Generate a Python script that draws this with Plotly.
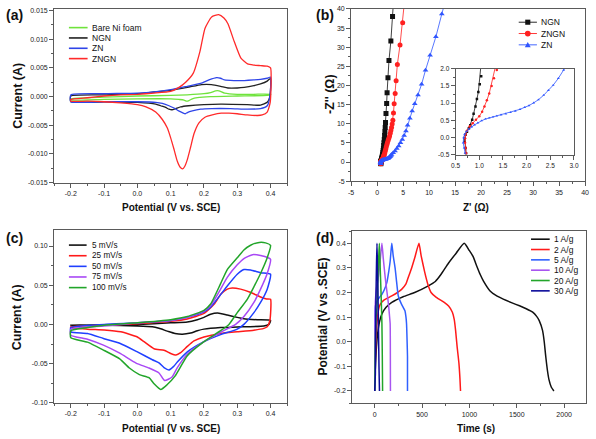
import plotly.graph_objects as go

W, H = 596, 439
FONT = "Liberation Sans, Arial, sans-serif"

# ---------------- Panel (a): CV of electrodes (V vs SCE, A) ----------------
a_names = ["Bare Ni foam", "NGN", "ZN", "ZNGN"]
a_colors = ["#6FE33C", "#222222", "#2F45E8", "#FF2A2A"]

a_bare_E = [-0.2, -0.1, 0.0, 0.1, 0.15, 0.2, 0.22, 0.235, 0.245, 0.262, 0.3, 0.35, 0.40,
            0.40, 0.39, 0.3, 0.22, 0.18, 0.165, 0.155, 0.148, 0.14, 0.125, 0.1, 0.0, -0.1, -0.2, -0.2]
a_bare_I = [-0.0004, -0.0001, 0.0001, 0.0002, 0.0003, 0.0005, 0.0007, 0.0010, 0.0010, 0.0006, 0.0004, 0.0004, 0.0004,
            0.0003, 0.0002, 0.0001, 0.0000, -0.0002, -0.0004, -0.0007, -0.0008, -0.0006, -0.0005, -0.0004, -0.0004, -0.0005, -0.0006, -0.0004]

a_ngn_E = [-0.2, -0.1, 0.0, 0.05, 0.1, 0.15, 0.193, 0.223, 0.25, 0.272, 0.30, 0.321, 0.35, 0.37, 0.39, 0.40,
           0.398, 0.39, 0.37, 0.33, 0.25, 0.2, 0.154, 0.13, 0.115, 0.104, 0.095, 0.085, 0.07, 0.055, 0.0, -0.1, -0.2, -0.2]
a_ngn_I = [0.0001, 0.0003, 0.0005, 0.0008, 0.0011, 0.0016, 0.0021, 0.0021, 0.0018, 0.0015, 0.0015, 0.0016, 0.0019, 0.0022, 0.0027, 0.0032,
           0.0000, -0.0010, -0.0015, -0.0014, -0.0013, -0.0014, -0.0016, -0.0018, -0.0021, -0.0023, -0.0022, -0.0019, -0.0016, -0.0013, -0.0010, -0.0009, -0.0009, 0.0001]

a_zn_E = [-0.2, -0.1, 0.0, 0.05, 0.1, 0.15, 0.19, 0.215, 0.238, 0.25, 0.262, 0.29, 0.321, 0.35, 0.37, 0.39, 0.40,
          0.398, 0.39, 0.37, 0.33, 0.28, 0.223, 0.19, 0.165, 0.15, 0.144, 0.135, 0.124, 0.11, 0.095, 0.075, 0.055, 0.0, -0.1, -0.2, -0.2]
a_zn_I = [0.0003, 0.0005, 0.0006, 0.0008, 0.0012, 0.0018, 0.0023, 0.0029, 0.0033, 0.0032, 0.0029, 0.0028, 0.0028, 0.0029, 0.0030, 0.0032, 0.0034,
          0.0000, -0.0016, -0.0021, -0.0022, -0.0021, -0.0021, -0.0022, -0.0025, -0.0028, -0.0030, -0.0028, -0.0025, -0.0020, -0.0016, -0.0012, -0.0010, -0.0009, -0.0009, -0.0009, 0.0003]

a_zngn_E = [-0.2, -0.15, -0.1, -0.05, 0.0, 0.05, 0.1, 0.125, 0.145, 0.168, 0.188, 0.203, 0.223, 0.244, 0.26, 0.272, 0.291, 0.311, 0.331, 0.35, 0.37, 0.39, 0.40,
            0.399, 0.39, 0.375, 0.361, 0.33, 0.30, 0.275, 0.252, 0.225, 0.203, 0.185, 0.17, 0.16, 0.15, 0.142, 0.136, 0.128, 0.12, 0.11, 0.10, 0.09, 0.075, 0.055, 0.026, 0.0, -0.05, -0.1, -0.15, -0.2, -0.2]
a_zngn_I = [-0.0005, -0.0002, 0.0001, 0.0003, 0.0004, 0.0006, 0.0009, 0.0016, 0.0025, 0.0041, 0.0079, 0.0119, 0.0139, 0.0143, 0.0137, 0.0127, 0.0096, 0.0067, 0.0057, 0.0055, 0.0054, 0.0053, 0.0050,
            -0.0010, -0.0027, -0.0032, -0.0033, -0.0032, -0.0030, -0.0029, -0.0029, -0.0032, -0.0036, -0.0046, -0.0065, -0.0088, -0.0110, -0.0122, -0.0126, -0.0123, -0.0113, -0.0092, -0.0072, -0.0055, -0.0040, -0.0027, -0.0018, -0.0014, -0.0011, -0.0009, -0.0008, -0.0008, -0.0005]

a_xticks = [-0.2, -0.1, 0.0, 0.1, 0.2, 0.3, 0.4]
a_xtext = ["-0.2", "-0.1", "0.0", "0.1", "0.2", "0.3", "0.4"]
a_yticks = [-0.015, -0.010, -0.005, 0.0, 0.005, 0.010, 0.015]
a_ytext = ["-0.015", "-0.010", "-0.005", "0.000", "0.005", "0.010", "0.015"]

# ---------------- Panel (b): Nyquist plots (ohm) ----------------
b_names = ["NGN", "ZNGN", "ZN"]
b_colors = ["#111111", "#FF2020", "#2F55FF"]
b_symbols = ["square", "circle", "triangle-up"]

b_ngn_re = [0.72, 0.71, 0.69, 0.69, 0.71, 0.74, 0.78, 0.81, 0.85, 0.88, 0.92, 0.95, 0.98, 1.01, 1.04, 1.07, 1.12, 1.17,
            1.22, 1.27, 1.32, 1.38, 1.44, 1.50, 1.56, 1.62, 1.71, 1.84, 1.92, 2.09, 2.28, 2.65, 2.97, 3.25]
b_ngn_im = [-0.45, -0.30, -0.12, -0.02, 0.08, 0.17, 0.27, 0.36, 0.52, 0.69, 0.90, 1.12, 1.32, 1.55, 1.78, 2.05, 2.5, 3.0,
            3.6, 4.3, 5.0, 5.9, 6.9, 7.9, 9.0, 10.3, 12.7, 15.3, 18.1, 22.0, 26.5, 31.6, 38.0, 44.0]

b_zngn_re = [0.72, 0.71, 0.70, 0.70, 0.71, 0.74, 0.80, 0.86, 0.93, 1.00, 1.06, 1.11, 1.16, 1.21, 1.26, 1.31, 1.37, 1.45,
             1.55, 1.65, 1.76, 1.87, 1.98, 2.12, 2.26, 2.40, 2.53, 2.65, 2.78, 2.90, 3.03, 3.15, 3.28, 3.47, 3.66, 3.90,
             4.41, 4.92, 5.35]
b_zngn_im = [-0.45, -0.30, -0.15, -0.02, 0.08, 0.20, 0.33, 0.42, 0.52, 0.62, 0.75, 0.90, 1.08, 1.28, 1.50, 1.72, 1.96, 2.3,
             2.8, 3.3, 3.9, 4.5, 5.0, 5.6, 6.2, 6.8, 7.5, 8.2, 9.0, 9.9, 10.9, 12.8, 15.2, 17.9, 21.2, 25.5,
             30.6, 36.4, 43.0]

b_zn_re = [0.70, 0.68, 0.66, 0.67, 0.69, 0.73, 0.78, 0.84, 0.90, 0.97, 1.05, 1.13, 1.21, 1.29, 1.37, 1.46, 1.56, 1.66,
           1.76, 1.86, 1.96, 2.05, 2.15, 2.25, 2.36, 2.46, 2.56, 2.67, 2.78, 3.10, 3.45, 3.80, 4.15, 4.50, 4.85, 5.20,
           5.55, 5.86, 6.30, 6.74, 7.24, 7.87, 8.56, 9.31, 10.19, 11.30, 12.45, 13.60]
b_zn_im = [-0.45, -0.30, -0.15, 0.00, 0.10, 0.18, 0.25, 0.31, 0.37, 0.43, 0.49, 0.54, 0.57, 0.60, 0.63, 0.66, 0.69, 0.73,
           0.77, 0.82, 0.88, 0.93, 1.01, 1.10, 1.23, 1.37, 1.52, 1.72, 1.96, 2.4, 2.9, 3.5, 4.2, 5.0, 5.9, 6.9,
           8.1, 9.6, 11.4, 13.3, 15.2, 17.5, 20.3, 24.0, 27.9, 32.7, 38.7, 44.5]

b_ticks = [-5, 0, 5, 10, 15, 20, 25, 30, 35, 40]
b_text = ["-5", "0", "5", "10", "15", "20", "25", "30", "35", "40"]
ins_xticks = [0.5, 1.0, 1.5, 2.0, 2.5, 3.0]
ins_xtext = ["0.5", "1.0", "1.5", "2.0", "2.5", "3.0"]
ins_yticks = [-0.5, 0.0, 0.5, 1.0, 1.5, 2.0]
ins_ytext = ["-0.5", "0.0", "0.5", "1.0", "1.5", "2.0"]

# ---------------- Panel (c): CV at scan rates ----------------
c_names = ["5 mV/s", "25 mV/s", "50 mV/s", "75 mV/s", "100 mV/s"]
c_colors = ["#111111", "#FF1A1A", "#1F3FFF", "#A848F5", "#22A52A"]

c5_E = [-0.2, -0.1, 0.0, 0.1, 0.15, 0.18, 0.2, 0.22, 0.241, 0.27, 0.3, 0.32, 0.36, 0.4,
        0.395, 0.38, 0.3, 0.25, 0.2, 0.18, 0.16, 0.135, 0.113, 0.09, 0.065, 0.045, 0.0, -0.1, -0.2, -0.2]
c5_I = [-0.001, -0.0005, 0.0, 0.002, 0.003, 0.006, 0.009, 0.013, 0.0145, 0.012, 0.009, 0.0073, 0.006, 0.0052,
        0.0, -0.002, -0.0033, -0.004, -0.006, -0.008, -0.011, -0.0125, -0.0115, -0.0085, -0.005, -0.003, -0.002, -0.001, -0.0008, -0.001]

c25_E = [-0.2, -0.1, 0.0, 0.1, 0.15, 0.2, 0.231, 0.251, 0.27, 0.285, 0.31, 0.339, 0.37, 0.388, 0.4,
         0.398, 0.39, 0.38, 0.35, 0.3, 0.25, 0.2, 0.17, 0.15, 0.13, 0.116, 0.1, 0.08, 0.05, 0.02, 0.0, -0.05, -0.1, -0.15, -0.2, -0.2]
c25_I = [-0.003, -0.001, 0.001, 0.004, 0.007, 0.014, 0.026, 0.0387, 0.045, 0.0465, 0.045, 0.041, 0.035, 0.0325, 0.032,
         0.005, -0.003, -0.005, -0.0073, -0.0094, -0.0115, -0.016, -0.021, -0.028, -0.036, -0.039, -0.037, -0.033, -0.031, -0.022, -0.016, -0.0094, -0.007, -0.006, -0.004, -0.003]

c50_E = [-0.2, -0.1, 0.0, 0.1, 0.15, 0.2, 0.22, 0.25, 0.27, 0.3, 0.32, 0.34, 0.37, 0.4,
         0.39, 0.37, 0.35, 0.32, 0.3, 0.25, 0.2, 0.15, 0.12, 0.109, 0.095, 0.08, 0.065, 0.045, 0.0, -0.053, -0.102, -0.15, -0.2, -0.2]
c50_I = [-0.004, 0.0, 0.002, 0.005, 0.009, 0.016, 0.022, 0.038, 0.049, 0.064, 0.070, 0.0695, 0.066, 0.064,
         0.045, 0.028, 0.015, 0.0, -0.006, -0.013, -0.022, -0.035, -0.048, -0.0535, -0.058, -0.055, -0.049, -0.045, -0.035, -0.024, -0.0179, -0.0116, -0.0095, -0.004]

c75_E = [-0.2, -0.1, 0.0, 0.1, 0.15, 0.2, 0.22, 0.25, 0.27, 0.3, 0.32, 0.346, 0.37, 0.393, 0.4,
         0.39, 0.37, 0.35, 0.32, 0.295, 0.25, 0.2, 0.15, 0.12, 0.104, 0.082, 0.065, 0.035, -0.004, -0.053, -0.102, -0.15, -0.2, -0.2]
c75_I = [-0.006, -0.002, 0.002, 0.005, 0.009, 0.017, 0.024, 0.045, 0.060, 0.076, 0.084, 0.089, 0.088, 0.085, 0.083,
         0.065, 0.045, 0.028, 0.01, 0.0, -0.01, -0.022, -0.038, -0.055, -0.067, -0.0716, -0.0619, -0.0556, -0.0493, -0.0367, -0.0264, -0.0188, -0.0137, -0.006]

c100_E = [-0.2, -0.15, -0.1, 0.0, 0.1, 0.15, 0.2, 0.22, 0.25, 0.27, 0.3, 0.32, 0.34, 0.366, 0.385, 0.4,
          0.39, 0.37, 0.35, 0.33, 0.3, 0.275, 0.25, 0.2, 0.15, 0.113, 0.089, 0.07, 0.05, 0.035, 0.006, -0.024, -0.053, -0.102, -0.15, -0.2, -0.2]
c100_I = [-0.008, -0.004, -0.001, 0.002, 0.006, 0.01, 0.018, 0.026, 0.052, 0.07, 0.085, 0.095, 0.101, 0.1046, 0.104, 0.1008,
          0.085, 0.065, 0.048, 0.032, 0.015, 0.0, -0.008, -0.022, -0.04, -0.066, -0.077, -0.083, -0.0757, -0.068, -0.064, -0.0556, -0.044, -0.0327, -0.0226, -0.017, -0.008]

c_yticks = [-0.10, -0.05, 0.0, 0.05, 0.10]
c_ytext = ["-0.10", "-0.05", "0.00", "0.05", "0.10"]

# ---------------- Panel (d): GCD curves (s, V) ----------------
d_names = ["1 A/g", "2 A/g", "5 A/g", "10 A/g", "20 A/g", "30 A/g"]
d_colors = ["#111111", "#FF1A1A", "#3060FF", "#A855F0", "#22A52A", "#0A0A9A"]

d1_t = [0, 5, 15, 30, 50, 76, 120, 180, 300, 422, 561, 640, 699, 780, 860, 945, 1000, 1038, 1080, 1114, 1150, 1218,
        1280, 1357, 1450, 1529, 1600, 1668, 1710, 1737, 1772, 1790, 1806, 1825, 1840, 1865, 1892]
d1_V = [-0.20, -0.12, -0.04, 0.03, 0.08, 0.113, 0.14, 0.16, 0.183, 0.20, 0.226, 0.245, 0.273, 0.32, 0.36, 0.40, 0.37, 0.347, 0.305, 0.273, 0.245, 0.206,
        0.188, 0.173, 0.158, 0.146, 0.134, 0.12, 0.103, 0.086, 0.046, 0.0, -0.06, -0.12, -0.154, -0.185, -0.20]

d2_t = [0, 5, 12, 25, 40, 59, 100, 180, 284, 330, 353, 390, 422, 467, 490, 526, 560, 595, 650, 734, 780, 820, 840, 854, 870, 889, 900, 906]
d2_V = [-0.20, -0.10, 0.0, 0.08, 0.13, 0.153, 0.17, 0.186, 0.213, 0.235, 0.26, 0.30, 0.34, 0.40, 0.35, 0.286, 0.235, 0.20, 0.18, 0.16, 0.145, 0.12, 0.09, 0.046, -0.02, -0.087, -0.15, -0.20]

d5_t = [0, 3, 7, 40, 76, 100, 128, 150, 163, 180, 195, 215, 232, 249, 280, 319, 330, 336, 342, 346, 346]
d5_V = [-0.20, 0.0, 0.146, 0.175, 0.193, 0.21, 0.24, 0.29, 0.327, 0.40, 0.35, 0.30, 0.24, 0.186, 0.155, 0.126, 0.10, 0.073, 0.0, -0.06, -0.20]

d10_t = [0, 3, 7, 20, 42, 60, 76, 90, 111, 130, 145, 155, 163, 165, 166]
d10_V = [-0.20, 0.0, 0.166, 0.22, 0.273, 0.34, 0.40, 0.34, 0.26, 0.20, 0.153, 0.11, 0.073, -0.05, -0.20]

d20_t = [0, 2, 7, 15, 24, 33, 42, 49, 58, 66, 72, 76, 80, 83]
d20_V = [-0.20, -0.167, 0.0, 0.10, 0.14, 0.25, 0.34, 0.40, 0.30, 0.206, 0.13, 0.073, -0.06, -0.20]

d30_t = [0, 4, 7, 10, 14, 19, 24, 29, 34, 40, 45, 50]
d30_V = [-0.20, -0.16, -0.13, 0.05, 0.206, 0.32, 0.40, 0.30, 0.206, 0.05, -0.10, -0.20]

d_xticks = [0, 500, 1000, 1500, 2000]
d_xtext = ["0", "500", "1000", "1500", "2000"]
d_yticks = [-0.2, -0.1, 0.0, 0.1, 0.2, 0.3, 0.4]
d_ytext = ["-0.2", "-0.1", "0.0", "0.1", "0.2", "0.3", "0.4"]


# ---------------- helpers ----------------
def px(x):
    return x / W


def py(y):
    return 1 - y / H


fig = go.Figure()

def add_line(x, y, color, xa, ya, width=1.4):
    fig.add_trace(go.Scatter(x=x, y=y, mode="lines", xaxis=xa, yaxis=ya, showlegend=False,
                             line=dict(color=color, width=width, shape="spline", smoothing=0.5)))

# (a)
for E, I, col in zip([a_bare_E, a_ngn_E, a_zn_E, a_zngn_E], [a_bare_I, a_ngn_I, a_zn_I, a_zngn_I], a_colors):
    add_line(E, I, col, "x", "y", 1.3)

# (b) main + inset
for re_, im_, col, sym in zip([b_ngn_re, b_zngn_re, b_zn_re], [b_ngn_im, b_zngn_im, b_zn_im], b_colors, b_symbols):
    fig.add_trace(go.Scatter(x=re_, y=im_, mode="lines+markers", xaxis="x2", yaxis="y2", showlegend=False,
                             line=dict(color=col, width=0.8),
                             marker=dict(symbol=sym, size=5, color=col)))
    fig.add_trace(go.Scatter(x=re_, y=im_, mode="lines+markers", xaxis="x3", yaxis="y3", showlegend=False,
                             line=dict(color=col, width=0.8),
                             marker=dict(symbol=sym, size=2.5, color=col), cliponaxis=True))

# (c)
for E, I, col in zip([c5_E, c25_E, c50_E, c75_E, c100_E], [c5_I, c25_I, c50_I, c75_I, c100_I], c_colors):
    add_line(E, I, col, "x4", "y4", 1.5)

# (d)
for t, V, col in zip([d1_t, d2_t, d5_t, d10_t, d20_t, d30_t], [d1_V, d2_V, d5_V, d10_V, d20_V, d30_V], d_colors):
    add_line(t, V, col, "x5", "y5", 1.5)

FRAME = "#5a5a5a"
def ax(domain, rng, tickvals, ticktext, minor_dtick, anchor, size=7):
    return dict(domain=domain, range=rng, anchor=anchor, showline=True, linecolor=FRAME, linewidth=1,
                mirror=True, ticks="outside", ticklen=4, tickwidth=1, tickcolor=FRAME,
                tickmode="array", tickvals=tickvals, ticktext=ticktext,
                tickfont=dict(family=FONT, size=size, color="#222"),
                showgrid=False, zeroline=False, fixedrange=True,
                minor=dict(ticks="outside", ticklen=2, tickwidth=1, tickcolor=FRAME,
                           dtick=minor_dtick, tick0=0, showgrid=False))

fig.update_layout(
    width=W, height=H, autosize=False,
    margin=dict(l=0, r=0, t=0, b=0),
    paper_bgcolor="white", plot_bgcolor="white",
    font=dict(family=FONT, color="#111"),
    showlegend=False,
    xaxis=ax([px(50), px(287)], [-0.25, 0.45], a_xticks, a_xtext, 0.05, "y"),
    yaxis=ax([py(182), py(5)], [-0.0151, 0.0153], a_yticks, a_ytext, 0.0025, "x"),
    xaxis2=ax([px(352), px(590)], [-5, 40], b_ticks, b_text, 2.5, "y2"),
    yaxis2=ax([py(180), py(5)], [-5, 40], b_ticks, b_text, 2.5, "x2"),
    xaxis3=ax([px(458.3), px(578.7)], [0.5, 3.0], ins_xticks, ins_xtext, 0.25, "y3", 6.5),
    yaxis3=ax([py(153.3), py(65.7)], [-0.5, 2.0], ins_yticks, ins_ytext, 0.25, "x3", 6.5),
    xaxis4=ax([px(50), px(287)], [-0.25, 0.45], a_xticks, a_xtext, 0.05, "y4"),
    yaxis4=ax([py(405.3), py(230)], [-0.10, 0.12], c_yticks, c_ytext, 0.025, "x4"),
    xaxis5=ax([px(353.3), px(591.3)], [-236, 2235], d_xticks, d_xtext, 250, "y5"),
    yaxis5=ax([py(405.7), py(230.7)], [-0.25, 0.45], d_yticks, d_ytext, 0.05, "x5"),
)

annotations = []
shapes = []

def text(x, y, s, size, angle=0, xanchor="center", bold=True):
    annotations.append(dict(x=px(x), y=py(y), xref="paper", yref="paper", showarrow=False,
                            text=("<b>%s</b>" % s) if bold else s, textangle=angle,
                            xanchor=xanchor, yanchor="middle",
                            font=dict(family=FONT, size=size, color="#111")))

# panel labels
text(10, 11, "(a)", 14)
text(325, 11, "(b)", 14)
text(10, 238, "(c)", 14)
text(325, 238, "(d)", 14)

# axis titles
text(12.5, 93, "Current (A)", 12.5, -90)
text(169, 207, "Potential (V vs. SCE)", 10)
text(330, 91, "-Z'' (\u03a9)", 12.5, -90)
text(479, 207, "Z' (\u03a9)", 10)
text(12.5, 318, "Current (A)", 12.5, -90)
text(169, 431, "Potential (V vs. SCE)", 10)
text(323, 318, "Potential (V vs .SCE)", 12, -90)
text(479, 431, "Time (s)", 10)

def legend_line(x0, x1, y, color, width=1.6):
    shapes.append(dict(type="line", xref="paper", yref="paper", x0=px(x0), x1=px(x1), y0=py(y), y1=py(y),
                       line=dict(color=color, width=width)))

# legend (a)
for i, (name, col) in enumerate(zip(a_names, a_colors)):
    yy = 24 + i * 10.5
    legend_line(65, 84, yy, col)
    text(86, yy, name, 8.5, xanchor="left", bold=False)

# legend (b)
for i, (name, col, sym) in enumerate(zip(b_names, b_colors, b_symbols)):
    yy = 18.5 + i * 11.5
    legend_line(522.5, 541, yy, col, 0.9)
    cx, r = 531.7, 2.6
    if sym == "square":
        shapes.append(dict(type="rect", xref="paper", yref="paper", x0=px(cx - r), x1=px(cx + r),
                           y0=py(yy + r), y1=py(yy - r), fillcolor=col, line=dict(width=0)))
    elif sym == "circle":
        shapes.append(dict(type="circle", xref="paper", yref="paper", x0=px(cx - r - 0.3), x1=px(cx + r + 0.3),
                           y0=py(yy + r + 0.3), y1=py(yy - r - 0.3), fillcolor=col, line=dict(width=0)))
    else:
        path = "M %f,%f L %f,%f L %f,%f Z" % (px(cx - 3), py(yy + 2.4), px(cx + 3), py(yy + 2.4), px(cx), py(yy - 3))
        shapes.append(dict(type="path", xref="paper", yref="paper", path=path, fillcolor=col, line=dict(width=0)))
    text(543.5, yy, name, 8.5, xanchor="left", bold=False)

# legend (c)
for i, (name, col) in enumerate(zip(c_names, c_colors)):
    yy = 245 + i * 10.8
    legend_line(65, 83, yy, col)
    text(86, yy, name, 8.2, xanchor="left", bold=False)

# legend (d)
for i, (name, col) in enumerate(zip(d_names, d_colors)):
    yy = 239 + i * 10.5
    legend_line(535, 554, yy, col)
    text(556.5, yy, name, 8.5, xanchor="left", bold=False)

fig.update_layout(annotations=annotations, shapes=shapes)
fig.write_html("out.html", config={"displayModeBar": False},
               post_script="document.body.style.margin='0';document.body.style.padding='0';")
